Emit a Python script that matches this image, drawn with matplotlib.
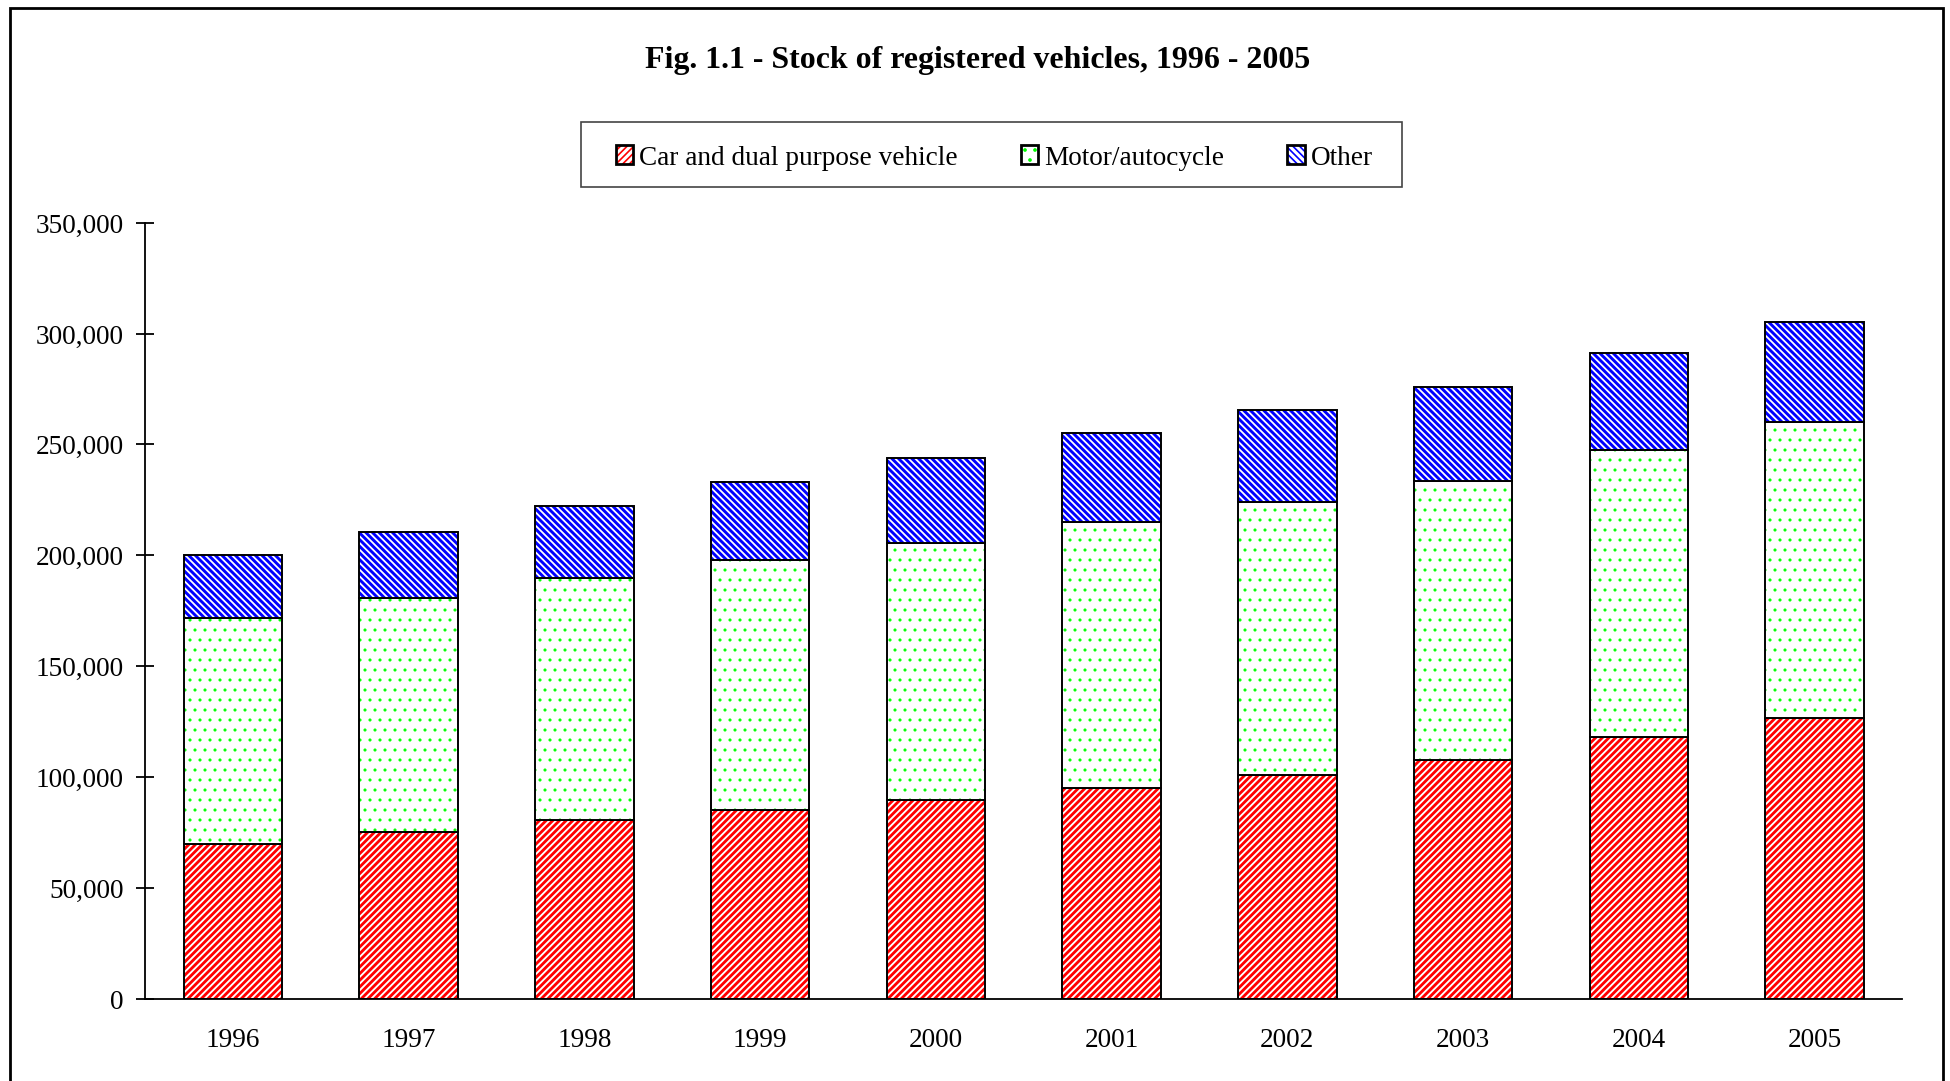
import numpy as np
import matplotlib
matplotlib.use("Agg")
import matplotlib.pyplot as plt
from matplotlib.patches import Patch, Rectangle
from matplotlib.legend_handler import HandlerTuple
from matplotlib.ticker import StrMethodFormatter

plt.rcParams['font.family'] = ['Liberation Serif', 'DejaVu Serif']

# data
years = ['1996', '1997', '1998', '1999', '2000', '2001', '2002', '2003', '2004', '2005']
cars = [69800, 75100, 80600, 85100, 89800, 95100, 101000, 107800, 117900, 126600]
motor = [101900, 105500, 109000, 112700, 115900, 119800, 123100, 125600, 129400, 133400]
other = [28500, 29800, 32600, 35100, 38000, 40100, 41500, 42700, 44000, 45300]

names = ['Car and dual purpose vehicle', 'Motor/autocycle', 'Other']
colors = ['#ff0000', '#00ff00', '#0000ff']
hatches = ['//////', '..', '\\' * 6]
hatch_lw = [1.7, 0.65, 1.75]   # points at DPI

DPI = 120
k = 100 / DPI   # sizes below were worked out for 100 dpi


def pt(v):
    return v * k


fig = plt.figure(figsize=(1950.4 / DPI, 1081.4 / DPI), dpi=DPI)
ax = fig.add_axes([145/1950, 1-999/1081, (1902-145)/1950, (999-223)/1081])


def set_hlw(patch, lw):
    if hasattr(patch, 'set_hatch_linewidth'):
        patch.set_hatch_linewidth(lw)


x = np.arange(len(years))
w = 0.56
series = [np.array(cars), np.array(motor), np.array(other)]
bottom = np.zeros(len(years))
handles = []
for vals, c, h, hl in zip(series, colors, hatches, hatch_lw):
    with plt.rc_context({'hatch.linewidth': hl}):
        # hatch drawn in series colour, outline in black on top
        bars = ax.bar(x, vals, w, bottom=bottom, facecolor='white', edgecolor=c, hatch=h, linewidth=0)
        for p in bars:
            set_hlw(p, hl)
        ax.bar(x, vals, w, bottom=bottom, fill=False, edgecolor='black', linewidth=pt(1.4))
        hp = Patch(facecolor='white', edgecolor=c, hatch=h, linewidth=0)
        set_hlw(hp, hl)
    bottom = bottom + vals
    handles.append((hp, Patch(fill=False, edgecolor='black', linewidth=pt(2))))

ax.set_xlim(-0.5, len(years) - 0.5)
ax.set_ylim(0, 350000)
ax.set_yticks(np.arange(0, 350001, 50000))
ax.yaxis.set_major_formatter(StrMethodFormatter('{x:,.0f}'))
ax.set_xticks(x)
ax.set_xticklabels(years)
ax.tick_params(axis='y', direction='inout', length=pt(13), width=pt(1.3), pad=pt(9), labelsize=pt(19.6))
ax.tick_params(axis='x', length=0, pad=pt(20.5), labelsize=pt(19.6))
for s in ['top', 'right']:
    ax.spines[s].set_visible(False)
for s in ['left', 'bottom']:
    ax.spines[s].set_linewidth(pt(1.3))

fig.text(977/1950, 1-60/1081, 'Fig. 1.1 - Stock of registered vehicles, 1996 - 2005',
         ha='center', va='center', fontsize=pt(23), fontweight='bold')

leg = fig.legend(handles, names, loc='center', bbox_to_anchor=(994/1950, 1-158/1081),
                 ncol=3, frameon=False, fontsize=pt(19.6), handlelength=0.65, handleheight=0.68,
                 handletextpad=0.22, columnspacing=2.3,
                 handler_map={tuple: HandlerTuple(ndivide=1, pad=0)})

# legend box and outer frame
fig.patches.append(Rectangle((581/1950, 1-187/1081), 821/1950, 65/1081,
                             transform=fig.transFigure, fill=False, edgecolor='#444444', linewidth=pt(1.2)))
fig.patches.append(Rectangle((10/1950, -0.05), 1933/1950, 1.05 - 8/1081,
                             transform=fig.transFigure, fill=False, edgecolor='black', linewidth=pt(2)))

fig.savefig('out.png', dpi=DPI)
